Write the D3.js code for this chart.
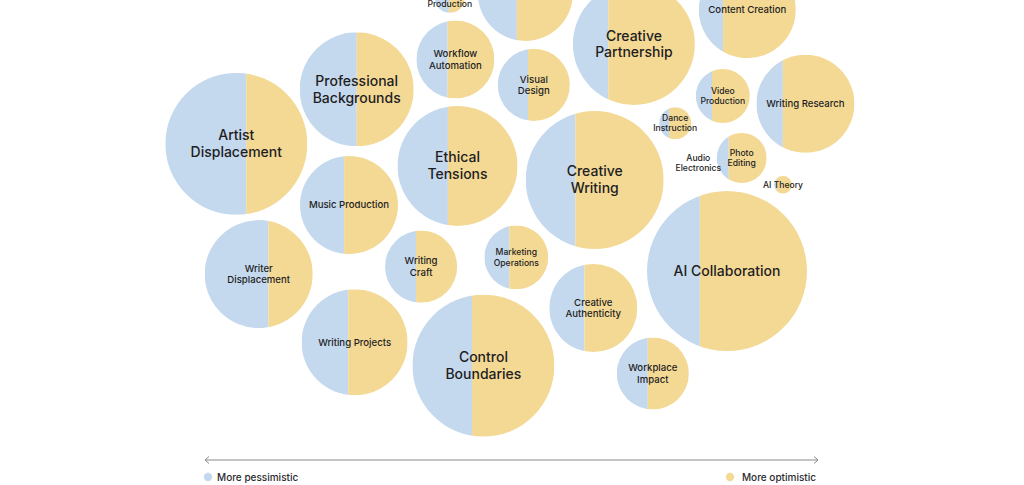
<!DOCTYPE html>
<html>
<head>
<meta charset="utf-8">
<script src="https://cdn.jsdelivr.net/npm/d3@7"></script>
<style>
  html, body { margin: 0; padding: 0; background: #ffffff; }
  svg { display: block; }
  text { font-family: Inter, "Noto Sans", sans-serif; }
</style>
</head>
<body>
<svg id="chart" width="1024" height="485"></svg>
<script>
// Topic names (line breaks with \n)
const topics = [
  "Artist\nDisplacement", "Professional\nBackgrounds", "Music Production", "Writer\nDisplacement",
  "Writing Projects", "Writing\nCraft", "Control\nBoundaries", "Marketing\nOperations",
  "Creative\nAuthenticity", "Workplace\nImpact", "AI Collaboration", "Ethical\nTensions",
  "Workflow\nAutomation", "Visual\nDesign", "Creative\nWriting", "Creative\nPartnership",
  "", "Production", "Content Creation", "Video\nProduction",
  "Writing Research", "Dance\nInstruction", "Photo\nEditing", "AI Theory", "Audio\nElectronics"
];
// Relative conversation volume (bubble area)
const volume = [
  504, 325, 240, 292,
  281, 130, 504, 102,
  194, 130, 640, 360,
  152, 130, 476, 372,
  226, 22.5, 235, 73,
  240, 25.6, 62.5, 8, 0
];
// Share of the bubble that is more pessimistic (position of divider across the diameter)
const pessimisticShare = [
  0.57, 0.50, 0.45, 0.59,
  0.44, 0.43, 0.42, 0.39,
  0.40, 0.43, 0.33, 0.42,
  0.40, 0.42, 0.36, 0.29,
  0.41, 0.47, 0.25, 0.30,
  0.27, 0.31, 0.24, 0.15, 0.30
];
// Layout position of each bubble (0-100 grid)
const posX = [
  10.9, 28.1, 27.0, 14.1,
  27.8, 37.3, 46.2, 50.9,
  61.9, 70.4, 81.0, 42.5,
  42.2, 53.4, 62.1, 67.7,
  52.2, 41.4, 83.9, 80.4,
  92.2, 73.6, 83.1, 89.0, 76.9
];
const posY = [
  32.7, 20.3, 46.6, 62.3,
  77.8, 60.6, 83.1, 58.5,
  70.0, 84.9, 61.6, 37.7,
  13.5, 19.3, 40.9, 10.0,
  -1.5, -0.5, 2.2, 21.8,
  23.6, 28.0, 35.9, 42.0, 37.0
];
const legendLabels = ["More pessimistic", "More optimistic"];

const colors = { pess: "#c4d8ee", opt: "#f4d995", text: "#1e1e22" };

const svg = d3.select("#chart");
const x = d3.scaleLinear().domain([0, 100]).range([160, 860]);
const y = d3.scaleLinear().domain([0, 100]).range([0, 440]);
const r = d3.scaleSqrt().domain([0, 640]).range([0, 80]);

const data = topics.map((t, i) => ({
  name: t, v: volume[i], p: pessimisticShare[i], x: posX[i], y: posY[i], i
}));

const defs = svg.append("defs");
data.forEach(d => {
  defs.append("clipPath").attr("id", "clip" + d.i)
    .append("circle")
    .attr("cx", x(d.x)).attr("cy", y(d.y)).attr("r", r(d.v));
});

const g = svg.append("g");
const bub = g.selectAll("g.bubble").data(data.filter(d => d.v > 0)).join("g")
  .attr("class", "bubble")
  .attr("clip-path", d => `url(#clip${d.i})`);

bub.append("rect")
  .attr("x", d => x(d.x) - r(d.v))
  .attr("y", d => y(d.y) - r(d.v))
  .attr("width", d => 2 * r(d.v) * d.p)
  .attr("height", d => 2 * r(d.v))
  .attr("fill", colors.pess);
bub.append("rect")
  .attr("x", d => x(d.x) - r(d.v) + 2 * r(d.v) * d.p)
  .attr("y", d => y(d.y) - r(d.v))
  .attr("width", d => 2 * r(d.v) * (1 - d.p))
  .attr("height", d => 2 * r(d.v))
  .attr("fill", colors.opt);

function fontSize(d) {
  const rr = r(d.v);
  if (rr >= 55) return 14;
  if (rr >= 33) return 9.6;
  return 8.6;
}

const labels = g.selectAll("text.label").data(data.filter(d => d.name)).join("text")
  .attr("class", "label")
  .attr("text-anchor", "middle")
  .attr("fill", colors.text)
  .attr("font-weight", 500)
  .attr("font-size", d => fontSize(d))
  .attr("x", d => x(d.x))
  .attr("y", d => y(d.y));

labels.each(function(d) {
  const lines = d.name.split("\n");
  const fs = fontSize(d);
  const lh = fs * 1.2;
  const t = d3.select(this);
  // keep labels of bubbles that run off the top edge inside the picture
  const cy = Math.max(y(d.y), (lines.length - 1) / 2 * lh + fs * 0.45);
  lines.forEach((ln, k) => {
    t.append("tspan")
      .attr("x", x(d.x))
      .attr("y", cy + (k - (lines.length - 1) / 2) * lh)
      .attr("dy", "0.35em")
      .text(ln);
  });
});

// Axis arrow
const axY = 460, axL = 205, axR = 818;
const axis = svg.append("g").attr("stroke", "#8a8a8a").attr("stroke-width", 1).attr("fill", "none");
axis.append("line").attr("x1", axL).attr("x2", axR).attr("y1", axY).attr("y2", axY);
axis.append("path").attr("d", `M${axL + 4},${axY - 3.5} L${axL},${axY} L${axL + 4},${axY + 3.5}`);
axis.append("path").attr("d", `M${axR - 4},${axY - 3.5} L${axR},${axY} L${axR - 4},${axY + 3.5}`);

// Legend
const legY = 477;
svg.append("circle").attr("cx", 208).attr("cy", legY).attr("r", 4.2).attr("fill", colors.pess);
svg.append("text").attr("x", 217).attr("y", legY).attr("dy", "0.35em")
  .attr("font-size", 10).attr("font-weight", 500).attr("fill", "#2a2a2e").text(legendLabels[0]);
svg.append("text").attr("x", 816).attr("y", legY).attr("dy", "0.35em").attr("text-anchor", "end")
  .attr("font-size", 10).attr("font-weight", 500).attr("fill", "#2a2a2e").text(legendLabels[1]);
svg.append("circle").attr("cx", 730).attr("cy", legY).attr("r", 4.2).attr("fill", colors.opt);
</script>
</body>
</html>
